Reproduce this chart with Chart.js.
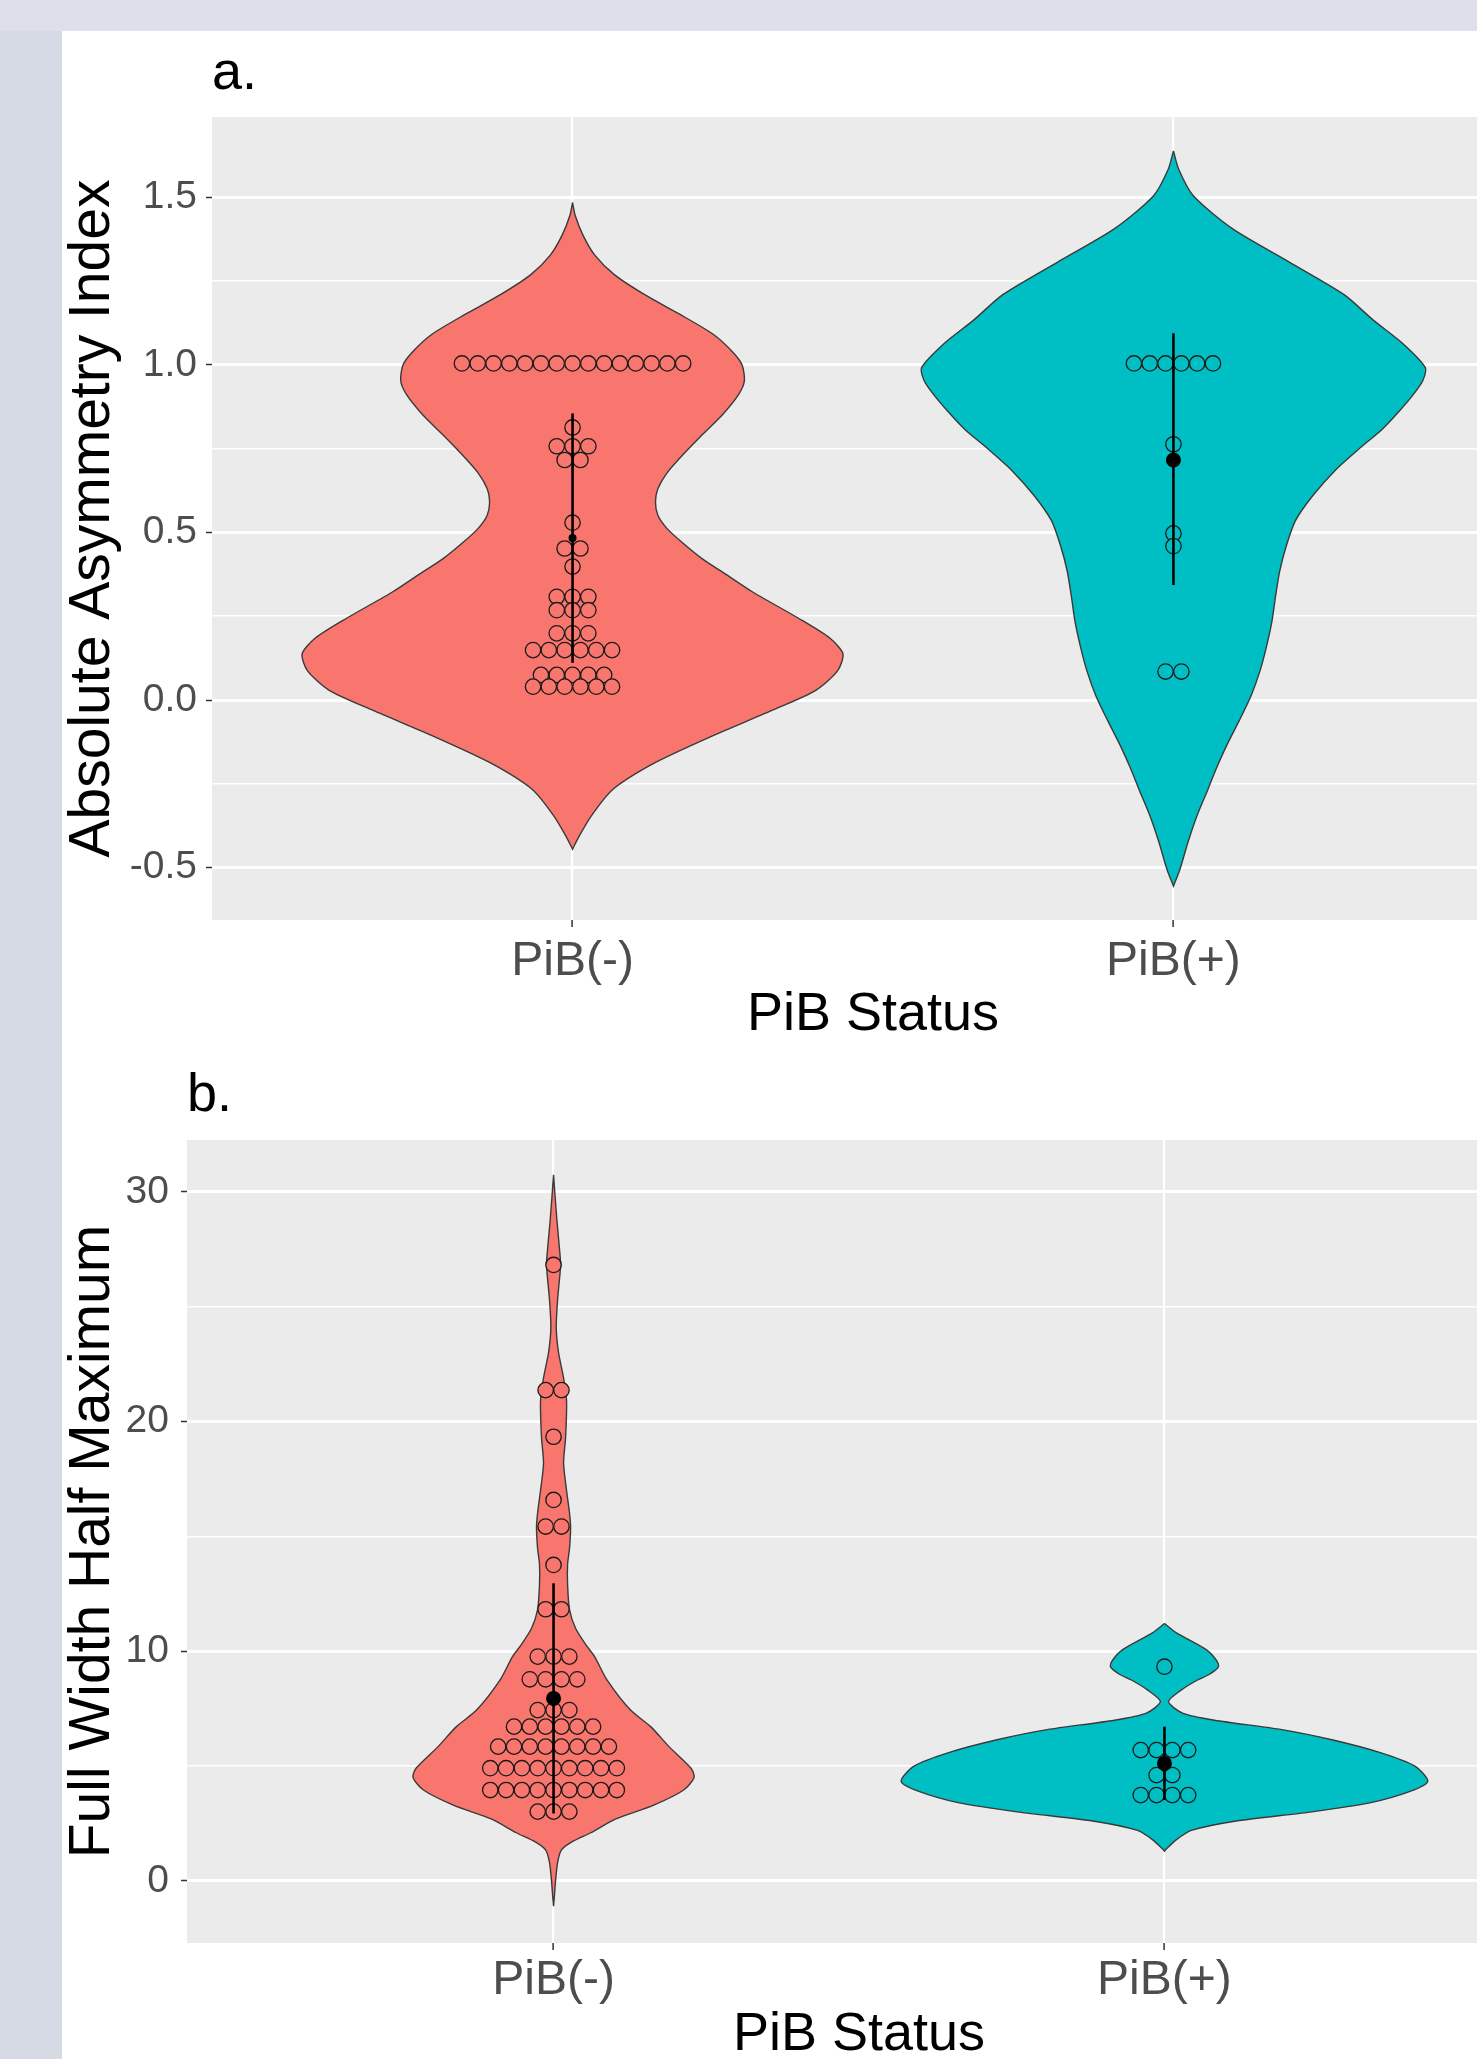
<!DOCTYPE html>
<html>
<head>
<meta charset="utf-8">
<title>PiB status violin plots</title>
<script src="https://cdn.jsdelivr.net/npm/chart.js@4.4.1/dist/chart.umd.min.js"></script>
<style>
  html, body { margin: 0; padding: 0; }
  body { width: 1477px; height: 2059px; overflow: hidden; background: #d6dae5; position: relative; }
  #topStrip { position: absolute; left: 0; top: 0; width: 1477px; height: 31px; background: #dde0ea; }
  #sheet { position: absolute; left: 62px; top: 31px; width: 1520px; height: 2100px; background: #fff; }
  .box { position: absolute; left: 0; }
  #boxA { top: 0; width: 1481px; height: 1029px; }
  #boxB { top: 1029px; width: 1478px; height: 1010px; }
</style>
</head>
<body>
<div id="topStrip"></div>
<div id="sheet">
  <div class="box" id="boxA"><canvas id="chartA"></canvas></div>
  <div class="box" id="boxB"><canvas id="chartB"></canvas></div>
</div>
<script>
const categories = ['PiB(-)', 'PiB(+)'];

// a. Absolute Asymmetry Index
const aTicks = [-0.5, 0, 0.5, 1, 1.5];
const aMinorTicks = [-0.25, 0.25, 0.75, 1.25];
// violin outline: value and half width (in category units), top to bottom
const aNegShapeY = [1.484, 1.445, 1.386, 1.327, 1.268, 1.209, 1.15, 1.091, 1.039, 1.0, 0.953, 0.913, 0.854, 0.795, 0.736, 0.677, 0.63, 0.591, 0.551, 0.512, 0.469, 0.421, 0.374, 0.323, 0.244, 0.185, 0.138, 0.087, 0.028, -0.031, -0.11, -0.189, -0.268, -0.346, -0.406, -0.445];
const aNegShapeW = [0, 0.0044, 0.0175, 0.037, 0.07, 0.12, 0.179, 0.234, 0.266, 0.282, 0.286, 0.277, 0.251, 0.218, 0.186, 0.157, 0.142, 0.138, 0.142, 0.157, 0.183, 0.216, 0.256, 0.299, 0.376, 0.428, 0.45, 0.441, 0.404, 0.332, 0.229, 0.135, 0.066, 0.031, 0.011, 0];
const aPosShapeY = [1.638, 1.583, 1.504, 1.406, 1.307, 1.209, 1.134, 1.063, 0.992, 0.953, 0.913, 0.862, 0.807, 0.748, 0.685, 0.61, 0.535, 0.461, 0.386, 0.311, 0.236, 0.161, 0.087, 0.012, -0.063, -0.13, -0.201, -0.268, -0.346, -0.425, -0.504, -0.555];
const aPosShapeW = [0, 0.0087, 0.033, 0.098, 0.192, 0.284, 0.332, 0.382, 0.419, 0.415, 0.4, 0.376, 0.347, 0.308, 0.269, 0.232, 0.203, 0.188, 0.177, 0.17, 0.164, 0.155, 0.144, 0.129, 0.109, 0.09, 0.072, 0.057, 0.039, 0.024, 0.011, 0];
// dot plot bins: value and number of dots in the bin
const aNegDotY = [1.004, 0.813, 0.757, 0.716, 0.529, 0.452, 0.398, 0.308, 0.268, 0.199, 0.149, 0.075, 0.040];
const aNegDotN = [15, 1, 3, 2, 1, 2, 1, 3, 3, 3, 6, 5, 6];
const aPosDotY = [1.004, 0.763, 0.497, 0.459, 0.085];
const aPosDotN = [6, 1, 1, 1, 2];
const aMean = [0.483, 0.716];
const aLow = [0.111, 0.343];
const aHigh = [0.855, 1.094];

// b. Full Width Half Maximum
const bTicks = [0, 10, 20, 30];
const bMinorTicks = [5, 15, 25];
const bNegShapeY = [30.74, 28.8, 27.5, 26.8, 25.3, 24.1, 23.0, 21.9, 20.9, 19.3, 18.2, 17.0, 16.0, 15.4, 14.5, 13.8, 12.9, 11.8, 11.0, 10.3, 9.77, 8.78, 7.44, 6.72, 5.85, 4.91, 4.5, 3.96, 3.3, 2.7, 2.1, 1.7, 1.35, 0.8, 0.0, -0.6, -1.1];
const bNegShapeW = [0, 0.0054, 0.0098, 0.0115, 0.0066, 0.0044, 0.0082, 0.0164, 0.0213, 0.0197, 0.0164, 0.0213, 0.0262, 0.0279, 0.0262, 0.023, 0.023, 0.0262, 0.036, 0.0525, 0.0672, 0.0869, 0.126, 0.159, 0.189, 0.225, 0.23, 0.213, 0.164, 0.102, 0.061, 0.03, 0.013, 0.0066, 0.0033, 0.0016, 0];
const bPosShapeY = [11.21, 10.8, 10.06, 9.6, 9.33, 9.0, 8.75, 8.32, 7.81, 7.31, 7.0, 6.59, 6.15, 5.6, 5.0, 4.34, 3.9, 3.4, 3.0, 2.6, 2.2, 1.8, 1.4, 1.3];
const bPosShapeW = [0, 0.0197, 0.0689, 0.0852, 0.0885, 0.0738, 0.0541, 0.0279, 0.0066, 0.0295, 0.082, 0.192, 0.274, 0.352, 0.41, 0.431, 0.402, 0.336, 0.238, 0.115, 0.044, 0.0197, 0.0033, 0];
const bNegDotY = [26.82, 21.37, 19.34, 16.59, 15.43, 13.76, 11.83, 9.77, 8.78, 7.44, 6.72, 5.85, 4.91, 3.96, 3.02];
const bNegDotN = [1, 2, 1, 1, 2, 1, 2, 3, 4, 3, 6, 8, 9, 9, 3];
const bPosDotY = [9.33, 5.70, 4.61, 3.74];
const bPosDotN = [1, 4, 2, 4];
const bMean = [7.95, 5.12];
const bLow = [2.94, 3.52];
const bHigh = [12.96, 6.72];

const FILLS = ['#F8766D', '#00BFC4'];
const SANS = "'Liberation Sans', Arial, Helvetica, sans-serif";

function violinPoints(center, ys, ws) {
  const right = ys.map((y, i) => ({ x: center + ws[i], y: y }));
  const left = ys.map((y, i) => ({ x: center - ws[i], y: y })).reverse();
  return right.concat(left);
}

// dots in one bin sit side by side, centred on the category
function dotPoints(center, ys, ns, step) {
  const pts = [];
  ys.forEach((y, i) => {
    for (let k = 0; k < ns[i]; k++) {
      pts.push({ x: center + (k - (ns[i] - 1) / 2) * step, y: y });
    }
  });
  return pts;
}

const plotBg = {
  id: 'plotBg',
  beforeDraw(chart) {
    const a = chart.chartArea;
    const ctx = chart.ctx;
    ctx.save();
    ctx.fillStyle = '#EBEBEB';
    ctx.fillRect(a.left, a.top, a.right - a.left, a.bottom - a.top);
    ctx.restore();
  }
};

function makePanel(id, p) {
  const datasets = [];
  [0, 1].forEach(g => {
    const c = g + 1;
    datasets.push({
      data: violinPoints(c, p.shapeY[g], p.shapeW[g]),
      borderColor: '#3a3a3a', borderWidth: 1.4, backgroundColor: FILLS[g],
      fill: 'shape', pointRadius: 0, tension: 0.25, order: 5
    });
    datasets.push({
      data: dotPoints(c, p.dotY[g], p.dotN[g], p.dotStep),
      showLine: false, pointRadius: 7.7, pointBackgroundColor: FILLS[g],
      pointBorderColor: '#1a1a1a', pointBorderWidth: 1.3, order: 3
    });
    datasets.push({
      data: [{ x: c, y: p.low[g] }, { x: c, y: p.high[g] }],
      borderColor: '#000', borderWidth: 2.6, pointRadius: 0, fill: false, order: 2
    });
    datasets.push({
      data: [{ x: c, y: p.mean[g] }],
      showLine: false, pointRadius: p.meanR[g], pointBackgroundColor: '#000',
      pointBorderColor: '#000', pointBorderWidth: 0, order: 1
    });
  });

  const allTicks = p.ticks.concat(p.minor).sort((a, b) => a - b);
  const isMajor = v => p.ticks.indexOf(v) !== -1;

  new Chart(document.getElementById(id), {
    type: 'line',
    data: { datasets: datasets },
    plugins: [plotBg],
    options: {
      responsive: true,
      maintainAspectRatio: false,
      animation: false,
      events: [],
      layout: { padding: 0 },
      plugins: {
        legend: { display: false },
        tooltip: { enabled: false },
        title: {
          display: true, text: p.label, align: 'start', fullSize: false,
          color: '#000', font: { family: SANS, size: 54, weight: 'normal', lineHeight: 1 },
          padding: { top: p.labelPadTop, bottom: p.labelPadBottom }
        }
      },
      scales: {
        x: {
          type: 'linear', min: 0.4, max: 2.6,
          afterBuildTicks: s => { s.ticks = [{ value: 1 }, { value: 2 }]; },
          afterFit: s => { s.height = p.xAxisH; },
          border: { display: false },
          grid: { color: '#FFFFFF', lineWidth: 2.2, tickLength: 7, tickColor: '#333', tickWidth: 1.5 },
          ticks: {
            callback: v => categories[Math.round(v) - 1],
            color: '#4D4D4D', padding: p.xTickPad, maxRotation: 0, autoSkip: false,
            font: { family: SANS, size: 48, lineHeight: 1 }
          },
          title: {
            display: true, text: 'PiB Status', color: '#000',
            font: { family: SANS, size: 54, lineHeight: 1 },
            padding: { top: 0, bottom: p.xTitlePad }
          }
        },
        y: {
          type: 'linear', min: p.yMin, max: p.yMax,
          afterBuildTicks: s => { s.ticks = allTicks.map(v => ({ value: v })); },
          afterFit: s => { s.width = p.yAxisW; },
          border: { display: false },
          grid: {
            color: '#FFFFFF',
            lineWidth: c => (c.tick && isMajor(c.tick.value)) ? 3 : 1.6,
            tickLength: 6,
            tickColor: c => (c.tick && isMajor(c.tick.value)) ? '#333' : 'rgba(0,0,0,0)',
            tickWidth: 1.5
          },
          ticks: {
            callback: v => isMajor(v) ? p.fmt(v) : '',
            color: '#4D4D4D', padding: p.yTickPad, autoSkip: false,
            font: { family: SANS, size: 39, lineHeight: 1 }
          },
          title: {
            display: true, text: p.yTitle, color: '#000',
            font: { family: SANS, size: 57, lineHeight: 1 },
            padding: { top: 3, bottom: 0 }
          }
        }
      }
    }
  });
}

makePanel('chartA', {
  label: 'a.', labelPadTop: 16, labelPadBottom: 16,
  yTitle: 'Absolute Asymmetry Index',
  yMin: -0.656, yMax: 1.739, ticks: aTicks, minor: aMinorTicks, fmt: v => v.toFixed(1),
  yAxisW: 150, yTickPad: 9, xAxisH: 140, xTickPad: 11, xTitlePad: 18,
  shapeY: [aNegShapeY, aPosShapeY], shapeW: [aNegShapeW, aPosShapeW],
  dotY: [aNegDotY, aPosDotY], dotN: [aNegDotN, aPosDotN], dotStep: 0.0263,
  mean: aMean, low: aLow, high: aHigh, meanR: [4, 7.5]
});

makePanel('chartB', {
  label: 'b.', labelPadTop: 9, labelPadBottom: 17,
  yTitle: 'Full Width Half Maximum',
  yMin: -2.7, yMax: 32.26, ticks: bTicks, minor: bMinorTicks, fmt: v => String(v),
  yAxisW: 125, yTickPad: 12, xAxisH: 127, xTickPad: 7, xTitlePad: 8,
  shapeY: [bNegShapeY, bPosShapeY], shapeW: [bNegShapeW, bPosShapeW],
  dotY: [bNegDotY, bPosDotY], dotN: [bNegDotN, bPosDotN], dotStep: 0.0259,
  mean: bMean, low: bLow, high: bHigh, meanR: [7.5, 7.5]
});
</script>
</body>
</html>
